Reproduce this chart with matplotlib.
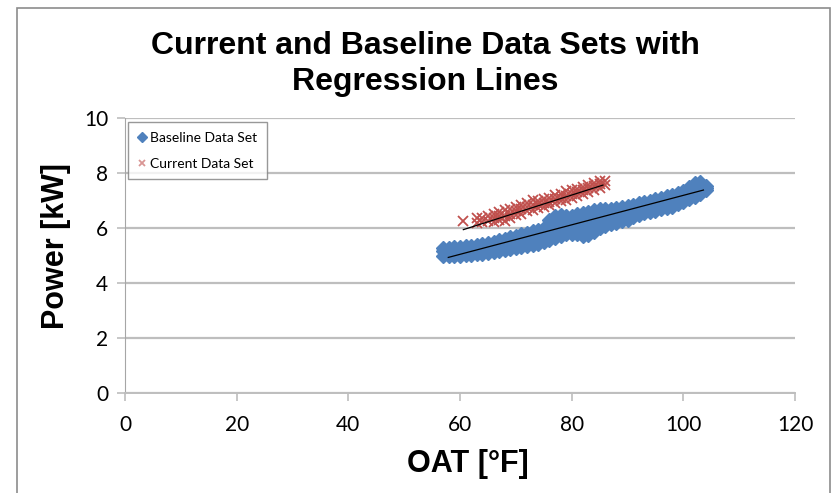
import matplotlib
matplotlib.use("Agg")
import matplotlib.pyplot as plt
from matplotlib.patches import Rectangle

# baseline data set (OAT degF -> kW values)
base_col_oat = [57, 58, 59, 60, 61, 62, 63, 64, 65, 66, 67, 68, 69, 70, 71, 72, 73,
                74, 75, 76, 77, 78, 79, 80, 81, 82, 83, 84, 85, 86, 87, 88, 89, 90,
                91, 92, 93, 94, 95, 96, 97, 98, 99, 100, 101, 102, 103, 104]
base_col_kw = [[5.0, 5.15, 5.28], [4.98, 5.13, 5.28], [5.0, 5.15, 5.3],
               [5.0, 5.16, 5.32], [5.02, 5.18, 5.33], [5.03, 5.2, 5.36],
               [5.05, 5.22, 5.38], [5.07, 5.25, 5.42], [5.1, 5.28, 5.46],
               [5.12, 5.32, 5.5], [5.16, 5.36, 5.56], [5.2, 5.4, 5.6],
               [5.24, 5.45, 5.66], [5.28, 5.5, 5.72], [5.3, 5.54, 5.78],
               [5.33, 5.58, 5.83], [5.38, 5.63, 5.88], [5.43, 5.68, 5.93],
               [5.5, 5.76, 6.0], [5.58, 5.85, 6.1, 6.3], [5.64, 5.9, 6.18, 6.45],
               [5.72, 5.98, 6.24, 6.48], [5.77, 6.02, 6.26, 6.42],
               [5.8, 6.05, 6.3, 6.45], [5.78, 6.05, 6.3, 6.5], [5.72, 6.0, 6.3, 6.55],
               [5.74, 6.02, 6.32, 6.6], [5.85, 6.12, 6.4, 6.65], [6.0, 6.25, 6.5, 6.68],
               [6.08, 6.32, 6.55, 6.7], [6.15, 6.4, 6.68], [6.2, 6.45, 6.72],
               [6.26, 6.52, 6.76], [6.3, 6.56, 6.8], [6.4, 6.62, 6.85],
               [6.48, 6.7, 6.9], [6.53, 6.76, 6.95], [6.58, 6.8, 7.0],
               [6.63, 6.85, 7.05], [6.68, 6.9, 7.1], [6.73, 6.95, 7.15],
               [6.78, 7.0, 7.2], [6.86, 7.08, 7.28], [6.94, 7.16, 7.36],
               [7.04, 7.28, 7.5], [7.14, 7.38, 7.62], [7.24, 7.45, 7.66],
               [7.38, 7.46, 7.54]]

# current data set
cur_col_oat = [60.5, 63, 64, 65, 66, 67, 68, 69, 70, 71, 72, 73, 74, 75, 76, 77, 78,
               79, 80, 81, 82, 83, 84, 85, 86]
cur_col_kw = [[6.27], [6.2, 6.35], [6.22, 6.38], [6.25, 6.42], [6.22, 6.38, 6.5],
              [6.3, 6.45, 6.6], [6.27, 6.45, 6.65], [6.37, 6.52, 6.68],
              [6.47, 6.62, 6.78], [6.52, 6.68, 6.83], [6.62, 6.75, 6.9],
              [6.67, 6.82, 7.03], [6.72, 6.86, 6.98], [6.77, 6.9, 7.05],
              [6.82, 6.95, 7.1], [6.9, 7.05, 7.2], [6.97, 7.1, 7.25],
              [7.02, 7.18, 7.33], [7.1, 7.25, 7.38], [7.15, 7.3, 7.43],
              [7.25, 7.38, 7.5], [7.3, 7.45, 7.55], [7.4, 7.52, 7.65],
              [7.47, 7.6, 7.7], [7.57, 7.7]]

# regression line end points
base_fit_oat = [57.9, 103.6]
base_fit_kw = [4.93, 7.38]
cur_fit_oat = [60.6, 85.6]
cur_fit_kw = [5.94, 7.56]

x_ticks = [0, 20, 40, 60, 80, 100, 120]
y_ticks = [0, 2, 4, 6, 8, 10]

base_oat = [x for x, col in zip(base_col_oat, base_col_kw) for _ in col]
base_kw = [v for col in base_col_kw for v in col]
cur_oat = [x for x, col in zip(cur_col_oat, cur_col_kw) for _ in col]
cur_kw = [v for col in cur_col_kw for v in col]

plt.rcParams["font.family"] = ["Lato", "DejaVu Sans"]
bold_font = ["Liberation Sans", "DejaVu Sans"]

fig = plt.figure(figsize=(8.35, 4.93), dpi=100)
fig.patches.append(Rectangle((17 / 835, -0.1), 813 / 835, 1.1 - 8 / 493,
                             transform=fig.transFigure, fill=False,
                             edgecolor="#8c8c8c", linewidth=1.2))
ax = fig.add_axes([125 / 835, 1 - 393 / 493, 670 / 835, 275 / 493])

ax.plot(base_oat, base_kw, linestyle="none", marker="D", ms=7.5,
        color="#4F81BD", mec="#4F81BD", label="Baseline Data Set", zorder=3)
ax.plot(cur_oat, cur_kw, linestyle="none", marker="x", ms=6.5, mew=1.3,
        color="#C0504D", label="Current Data Set", zorder=3)
ax.plot(base_fit_oat, base_fit_kw, color="black", lw=0.9, zorder=4)
ax.plot(cur_fit_oat, cur_fit_kw, color="black", lw=0.9, zorder=4)

ax.set_xlim(0, 120)
ax.set_ylim(0, 10)
ax.set_xticks(x_ticks)
ax.set_yticks(y_ticks)
ax.tick_params(labelsize=15, colors="#BEBEBE", labelcolor="black", length=6, width=1.2)
ax.tick_params(axis="x", pad=10)
ax.tick_params(axis="y", pad=6)
ax.yaxis.grid(True, color="#BEBEBE", lw=1.6)
ax.set_axisbelow(True)
for s in ["top", "right"]:
    ax.spines[s].set_visible(False)
ax.spines["left"].set_color("#A6A6A6")
ax.spines["bottom"].set_color("#BEBEBE")
ax.spines["bottom"].set_linewidth(1.4)

ax.set_xlabel("OAT [°F]", fontsize=22, fontweight="bold", family=bold_font)
ax.set_ylabel("Power [kW]", fontsize=22, fontweight="bold", family=bold_font)
ax.xaxis.set_label_coords(0.512, -0.205)
ax.yaxis.set_label_coords(-0.08, 0.535)
fig.text(0.509, 1 - 64 / 493, "Current and Baseline Data Sets with\nRegression Lines",
         ha="center", va="center", fontsize=23, fontweight="bold",
         family=bold_font, linespacing=1.3)

leg = ax.legend(loc="upper left", bbox_to_anchor=(0.004, 0.985), borderaxespad=0,
                fontsize=10, fancybox=False, edgecolor="#7f7f7f", handlelength=0.6,
                handletextpad=0.3, borderpad=0.7, labelspacing=1.0, markerscale=0.7)
leg.get_frame().set_linewidth(1.0)
leg.legend_handles[1].set_alpha(0.6)

fig.savefig("out.png", dpi=100)
